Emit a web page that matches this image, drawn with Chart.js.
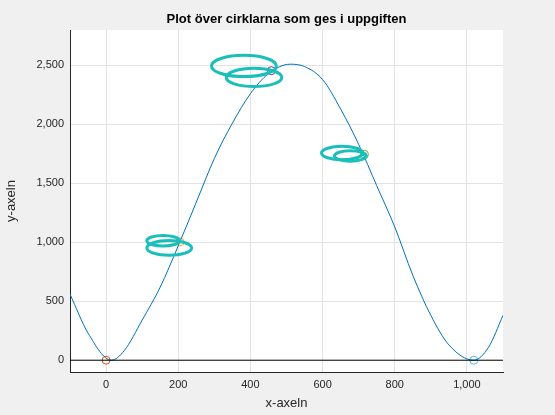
<!DOCTYPE html>
<html>
<head>
<meta charset="utf-8">
<script src="https://cdn.jsdelivr.net/npm/chart.js@4.4.0/dist/chart.umd.min.js"></script>
<style>
  html, body { margin: 0; padding: 0; background: #f0f0f0; }
  #wrap { width: 555px; height: 415px; }
</style>
</head>
<body>
<div id="wrap"><canvas id="chart"></canvas></div>
<script>
// Kurvan
const curveX = [-100, -50, 15, 50, 100, 150, 200, 250, 300, 350, 400, 450, 510, 550, 600, 650, 700, 750, 800, 850, 900, 950, 1019, 1060, 1100];
const curveY = [560, 230, 0, 80, 340, 620, 970, 1340, 1710, 2010, 2260, 2430, 2510, 2490, 2380, 2130, 1830, 1480, 1130, 720, 380, 130, 0, 110, 380];

// Markerade punkter
const pointX = [0, 205, 458, 716, 1019];
const pointY = [0, 1003, 2455, 1746, 0];
const pointColors = ['#D95319', '#EDB120', '#7E2F8E', '#77AC30', '#4DBEEE'];

// Cirklar (mittpunkt och radie i dataenheter)
const circleX = [382, 410, 158, 175, 654, 677];
const circleY = [2495, 2398, 1013, 952, 1757, 1732];
const circleR = [90, 77, 45, 62, 57, 44];

const zeroLineX = [-100, 1100];
const zeroLineY = [0, 0];

const xTicks = [0, 200, 400, 600, 800, 1000];
const yTicks = [0, 500, 1000, 1500, 2000, 2500];

// Bakgrund och titel
const backgroundPlugin = {
    id: 'bg',
    beforeDraw(chart) {
        const { ctx, chartArea } = chart;
        ctx.save();
        ctx.fillStyle = '#f0f0f0';
        ctx.fillRect(0, 0, chart.width, chart.height);
        ctx.fillStyle = '#ffffff';
        ctx.fillRect(chartArea.left, chartArea.top, chartArea.right - chartArea.left, chartArea.bottom - chartArea.top);
        ctx.restore();
    },
    afterDraw(chart) {
        const { ctx, chartArea } = chart;
        ctx.save();
        ctx.fillStyle = '#000';
        ctx.font = 'bold 13px "Liberation Sans", Arial, sans-serif';
        ctx.textAlign = 'center';
        ctx.fillText('Plot över cirklarna som ges i uppgiften', (chartArea.left + chartArea.right) / 2, 23);
        ctx.restore();
    }
};

// Cirklarna ritas som ellipser via axlarnas skalor
const circlePlugin = {
    id: 'circles',
    afterDatasetsDraw(chart) {
        const { ctx, scales, chartArea } = chart;
        ctx.save();
        ctx.beginPath();
        ctx.rect(chartArea.left, chartArea.top, chartArea.right - chartArea.left, chartArea.bottom - chartArea.top);
        ctx.clip();
        ctx.strokeStyle = '#1ABFBA';
        ctx.lineWidth = 3;
        circleX.forEach((cx, i) => {
            const px = scales.x.getPixelForValue(cx);
            const py = scales.y.getPixelForValue(circleY[i]);
            const rx = Math.abs(scales.x.getPixelForValue(cx + circleR[i]) - px);
            const ry = Math.abs(scales.y.getPixelForValue(circleY[i] + circleR[i]) - py);
            ctx.beginPath();
            ctx.ellipse(px, py, rx, ry, 0, 0, Math.PI * 2);
            ctx.stroke();
        });
        ctx.restore();
    }
};

const toXY = (xs, ys) => xs.map((x, i) => ({ x: x, y: ys[i] }));

new Chart(document.getElementById('chart'), {
    type: 'scatter',
    data: {
        datasets: [
            {
                data: toXY(zeroLineX, zeroLineY),
                showLine: true,
                borderColor: '#000',
                borderWidth: 1,
                pointRadius: 0
            },
            {
                data: toXY(curveX, curveY),
                showLine: true,
                borderColor: '#0072BD',
                borderWidth: 1,
                pointRadius: 0,
                cubicInterpolationMode: 'monotone'
            },
            {
                data: toXY(pointX, pointY),
                showLine: false,
                pointRadius: 4,
                pointBorderWidth: 1,
                pointBorderColor: pointColors,
                pointBackgroundColor: 'rgba(0,0,0,0)'
            }
        ]
    },
    options: {
        responsive: true,
        maintainAspectRatio: false,
        animation: false,
        layout: { padding: { top: 30, right: 52, left: 0, bottom: 0 } },
        plugins: {
            legend: { display: false },
            tooltip: { enabled: false }
        },
        scales: {
            x: {
                type: 'linear',
                min: -100,
                max: 1100,
                afterBuildTicks: (scale) => { scale.ticks = xTicks.map(v => ({ value: v })); },
                afterFit: (scale) => { scale.height = 43; },
                grid: { color: '#e3e3e3', drawTicks: false },
                border: { color: '#262626' },
                ticks: { color: '#262626', font: { size: 11 }, padding: 6 },
                title: { display: true, text: 'x-axeln', color: '#262626', font: { size: 13 }, padding: { top: 0 } }
            },
            y: {
                type: 'linear',
                min: -100,
                max: 2800,
                afterBuildTicks: (scale) => { scale.ticks = yTicks.map(v => ({ value: v })); },
                afterFit: (scale) => { scale.width = 70; },
                grid: { color: '#e3e3e3', drawTicks: false },
                border: { color: '#262626' },
                ticks: { color: '#262626', font: { size: 11 }, padding: 6 },
                title: { display: true, text: 'y-axeln', color: '#262626', font: { size: 13 }, padding: { bottom: 2 } }
            }
        }
    },
    plugins: [backgroundPlugin, circlePlugin]
});
</script>
</body>
</html>
